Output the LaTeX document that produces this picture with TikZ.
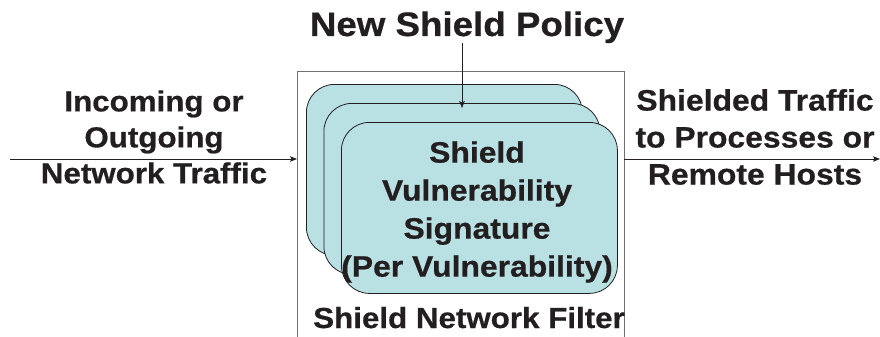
\documentclass[tikz,border=0pt]{standalone}
\usepackage{fontspec}
\setmainfont{Liberation Sans}[FakeStretch=1.08, BoldFeatures={FakeBold=0.6}]
\usetikzlibrary{arrows.meta}

\definecolor{ink}{HTML}{231F20}
\definecolor{cardfill}{HTML}{B9E0E3}
\definecolor{frame}{HTML}{707070}

\tikzset{
  lbl/.style={text=ink, inner sep=0pt, align=center, font=\bfseries},
  card/.style={draw=ink, line width=0.8pt, fill=cardfill, rounded corners=28pt,
    minimum width=276pt, minimum height=171pt, inner sep=0pt, anchor=north west},
  conn/.style={draw=ink, line width=0.8pt, -{Stealth[length=7pt,width=5.5pt,inset=1.5pt]}},
  boxline/.style={draw=frame, line width=0.8pt},
}

\begin{document}
\begin{tikzpicture}[x=1pt,y=-1pt]
  \useasboundingbox (0,0) rectangle (880,337);

  % the network filter box (open at the bottom edge of the page)
  \node[inner sep=0pt, minimum width=327pt, minimum height=266pt, anchor=north west]
    (filter) at (297,71) {};
  \draw[boxline] (filter.south west) |- (filter.north east) -- (filter.south east);

  % stacked signature cards
  \node[card] (back)  at (306,84)  {};
  \node[card] (mid)   at (323.5,103) {};
  \node[card] (front) at (341,122) {};
  \node[lbl, font=\bfseries\fontsize{29.5}{38}\selectfont] (sig) at (477,212)
    {Shield\\Vulnerability\\Signature\\(Per Vulnerability)};

  % labels
  \node[lbl, font=\bfseries\fontsize{34}{38}\selectfont, anchor=base] (policy) at (467,36)
    {New Shield Policy};
  \node[lbl, font=\bfseries\fontsize{29}{36}\selectfont] (incoming) at (154,137)
    {Incoming or\\Outgoing\\Network Traffic};
  \node[lbl, font=\bfseries\fontsize{29.5}{37}\selectfont] (shielded) at (755,137)
    {Shielded Traffic\\to Processes or\\Remote Hosts};
  \node[lbl, font=\bfseries\fontsize{29}{34}\selectfont, anchor=base] (filtername) at (469,328)
    {Shield Network Filter};

  % connectors
  \coordinate (inL) at (10,159);
  \coordinate (outR) at (880,159);
  \coordinate (policyIn) at (462,108);
  \draw[conn] (inL) -- (inL -| filter.west);
  \draw[conn] (outR -| filter.east) -- (outR);
  \draw[conn] (policy.south -| policyIn) -- (policyIn);
\end{tikzpicture}
\end{document}
